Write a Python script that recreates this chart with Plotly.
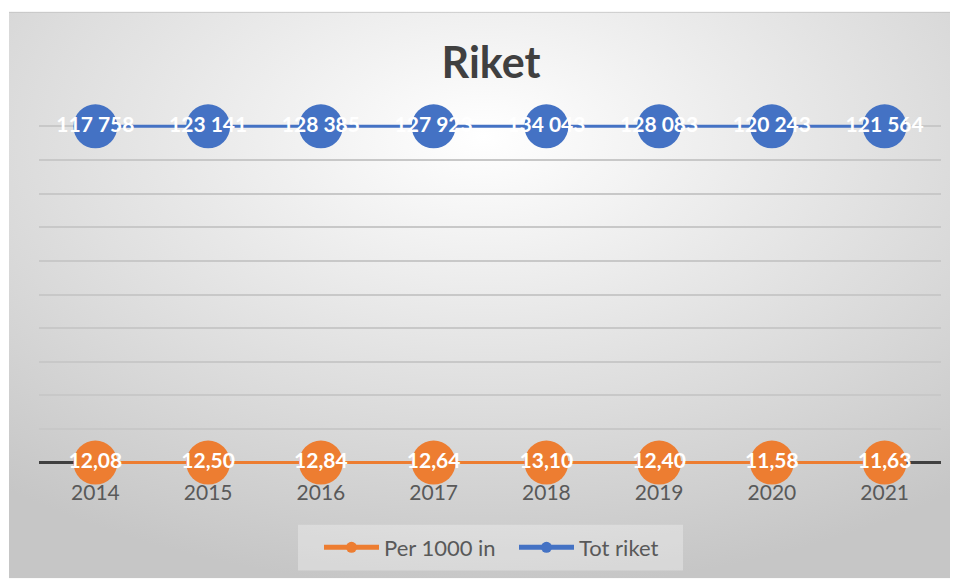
import base64
import plotly.graph_objects as go

# data
years = ["2014", "2015", "2016", "2017", "2018", "2019", "2020", "2021"]
per_1000 = [12.08, 12.50, 12.84, 12.64, 13.10, 12.40, 11.58, 11.63]
tot_riket = [117758, 123141, 128385, 127923, 134043, 128083, 120243, 121564]

ORANGE = "#ED7D31"
BLUE = "#4472C4"
TEXT_DARK = "#404040"
TEXT_GREY = "#595959"
FONT = "Lato"

# the page body has an 8px margin, so the figure is 8px smaller
W, H = 950, 573
L, R, T, B = 31, 17, 115, 113
pw, ph = W - L - R, H - T - B


def px_x(px):
    return (px - L) / pw


def px_y(py):
    return (H - B - py) / ph


# radial gradient panel like the Excel chart area
svg = (
    "<svg xmlns='http://www.w3.org/2000/svg' width='949' height='570'>"
    "<defs><radialGradient id='g' cx='50%' cy='22%' r='80%'>"
    "<stop offset='0' stop-color='#ffffff'/>"
    "<stop offset='1' stop-color='#c6c6c6'/>"
    "</radialGradient></defs>"
    "<rect x='0' y='0' width='949' height='570' fill='url(#g)'/>"
    "<line x1='0' y1='0.5' x2='949' y2='0.5' stroke='#c0c0c0' stroke-width='1'/>"
    "</svg>"
)
bg_src = "data:image/svg+xml;base64," + base64.b64encode(svg.encode()).decode()

fig = go.Figure()

# 100% stacked line chart: the library normalises each year to percent
fig.add_trace(go.Scatter(
    x=years, y=per_1000,
    stackgroup="s", groupnorm="percent", fill="none",
    mode="lines+markers+text",
    name="Per 1000 in",
    line=dict(color=ORANGE, width=3),
    marker=dict(size=44, color=ORANGE),
    text=[f"{v:.2f}".replace(".", ",") for v in per_1000],
    textposition="middle center",
    textfont=dict(family=FONT, size=21, color="white", weight="bold"),
    cliponaxis=False,
    showlegend=False,
))
fig.add_trace(go.Scatter(
    x=years, y=tot_riket,
    stackgroup="s", fill="none",
    mode="lines+markers+text",
    name="Tot riket",
    line=dict(color=BLUE, width=3),
    marker=dict(size=44, color=BLUE),
    text=[f"{v:,}".replace(",", " ") for v in tot_riket],
    textposition="middle center",
    textfont=dict(family=FONT, size=21, color="white", weight="bold"),
    cliponaxis=False,
    showlegend=False,
))

# legend entries with small markers
for name, color in [("Per 1000 in", ORANGE), ("Tot riket", BLUE)]:
    fig.add_trace(go.Scatter(
        x=[None], y=[None], mode="lines+markers", name=name,
        line=dict(color=color, width=5),
        marker=dict(size=11, color=color),
    ))

fig.update_layout(
    width=W, height=H,
    margin=dict(l=L, r=R, t=T, b=B),
    paper_bgcolor="white",
    plot_bgcolor="rgba(0,0,0,0)",
    font=dict(family=FONT, color=TEXT_GREY),
    title=dict(
        text="<b>Riket</b>",
        font=dict(family=FONT, size=43, color=TEXT_DARK),
        x=483 / W, xanchor="center",
        y=1 - 55 / H, yanchor="middle",
    ),
    images=[dict(
        source=bg_src, xref="paper", yref="paper",
        x=px_x(1), y=px_y(3),
        sizex=949 / pw, sizey=570 / ph,
        xanchor="left", yanchor="top",
        sizing="stretch", layer="below",
    )],
    shapes=[dict(
        type="rect", xref="paper", yref="paper", layer="below",
        x0=px_x(290), x1=px_x(675), y0=px_y(565), y1=px_y(519),
        fillcolor="rgba(255,255,255,0.3)", line_width=0,
    )],
    xaxis=dict(
        type="category",
        range=[-0.5, len(years) - 0.5],
        showgrid=False, showline=False, ticks="",
        tickfont=dict(family=FONT, size=21, color=TEXT_GREY),
        ticklabelstandoff=12,
    ),
    yaxis=dict(
        range=[-1, 101], tick0=0, dtick=10,
        showticklabels=False, ticks="",
        showgrid=True, gridcolor="#c8c8c8", gridwidth=1.5,
        zeroline=True, zerolinecolor="#404040", zerolinewidth=3,
    ),
    legend=dict(
        orientation="h",
        x=px_x(506), xanchor="center",
        y=px_y(542), yanchor="middle",
        bgcolor="rgba(0,0,0,0)",
        font=dict(family=FONT, size=22, color=TEXT_GREY),
        itemwidth=55,
        entrywidth=125,
        traceorder="normal",
    ),
    hovermode=False,
)

fig.write_html("out.html")
